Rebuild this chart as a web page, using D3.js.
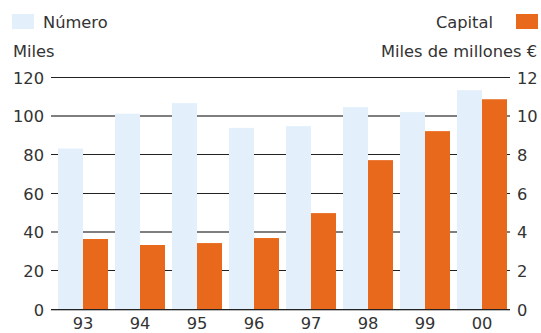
<!DOCTYPE html>
<html><head><meta charset="utf-8">
<script src="https://cdn.jsdelivr.net/npm/d3@7"></script>
<style>body{margin:0;background:#fff}svg{display:block}text{font-family:"DejaVu Sans",sans-serif;fill:#333}</style>
</head><body>
<script>
const years = ["93","94","95","96","97","98","99","00"];
const numero = [83, 101, 106.5, 93.7, 94.6, 104.4, 101.8, 113.2];
const capital = [3.62, 3.31, 3.41, 3.67, 4.96, 7.7, 9.2, 10.85];
const leftTicks = [0, 20, 40, 60, 80, 100, 120];
const rightTicks = [0, 2, 4, 6, 8, 10, 12];

const W = 541, H = 333;
const svg = d3.select("body").append("svg").attr("width", W).attr("height", H);
const fs = 16.3;
const x = d3.scaleBand().domain(years).range([58, 507]).paddingInner(7/57).paddingOuter(0);
const yL = d3.scaleLinear().domain([0, 120]).range([309, 77]);
const yR = d3.scaleLinear().domain([0, 12]).range([309, 77]);
const sub = d3.scaleBand().domain(["n","c"]).range([0, x.bandwidth()]);

// gridlines
const grid = svg.append("g");
leftTicks.forEach(t => {
  const gray = (t === 100 || t === 40);
  const y = Math.round(yL(t));
  grid.append("line").attr("x1", 51).attr("x2", 510).attr("y1", gray ? y : y + 0.5).attr("y2", gray ? y : y + 0.5)
    .attr("stroke", gray ? "#7f7f7f" : "#222").attr("stroke-width", gray ? 2 : 1.2);
  if (t === 0) grid.append("line").attr("x1", 51).attr("x2", 510).attr("y1", y + 1.5).attr("y2", y + 1.5).attr("stroke", "#bbb").attr("stroke-width", 1);
});

// bars
const g = svg.append("g");
g.selectAll("rect.n").data(years).join("rect").attr("class","n")
  .attr("x", d => x(d)).attr("width", sub.bandwidth())
  .attr("y", (d,i) => yL(numero[i])).attr("height", (d,i) => yL(0) - yL(numero[i]))
  .attr("fill", "#e3f0fb");
g.selectAll("rect.c").data(years).join("rect").attr("class","c")
  .attr("x", d => x(d) + sub("c")).attr("width", sub.bandwidth())
  .attr("y", (d,i) => yR(capital[i])).attr("height", (d,i) => yR(0) - yR(capital[i]))
  .attr("fill", "#e8691c");

// left axis labels
svg.append("g").selectAll("text").data(leftTicks).join("text")
  .attr("x", 44).attr("y", d => yL(d) + 6.5).attr("text-anchor", "end")
  .attr("font-size", fs).text(d => d);
// right axis labels
svg.append("g").selectAll("text").data(rightTicks).join("text")
  .attr("x", 517).attr("y", d => yR(d) + 6.5).attr("text-anchor", "start")
  .attr("font-size", fs).text(d => d);
// x labels
svg.append("g").selectAll("text").data(years).join("text")
  .attr("x", d => x(d) + x.bandwidth()/2).attr("y", 329).attr("text-anchor", "middle")
  .attr("font-size", fs).text(d => d);

// legend
svg.append("rect").attr("x", 12).attr("y", 14).attr("width", 22).attr("height", 15).attr("fill", "#e3f0fb");
svg.append("text").attr("x", 43).attr("y", 28).attr("font-size", fs).text("Número");
svg.append("text").attr("x", 13).attr("y", 57).attr("font-size", fs).text("Miles");
svg.append("rect").attr("x", 516).attr("y", 14).attr("width", 22).attr("height", 15).attr("fill", "#e8691c");
svg.append("text").attr("x", 493).attr("y", 28).attr("text-anchor", "end").attr("font-size", fs).text("Capital");
svg.append("text").attr("x", 537).attr("y", 57).attr("text-anchor", "end").attr("font-size", fs).text("Miles de millones €");
</script>
</body></html>
